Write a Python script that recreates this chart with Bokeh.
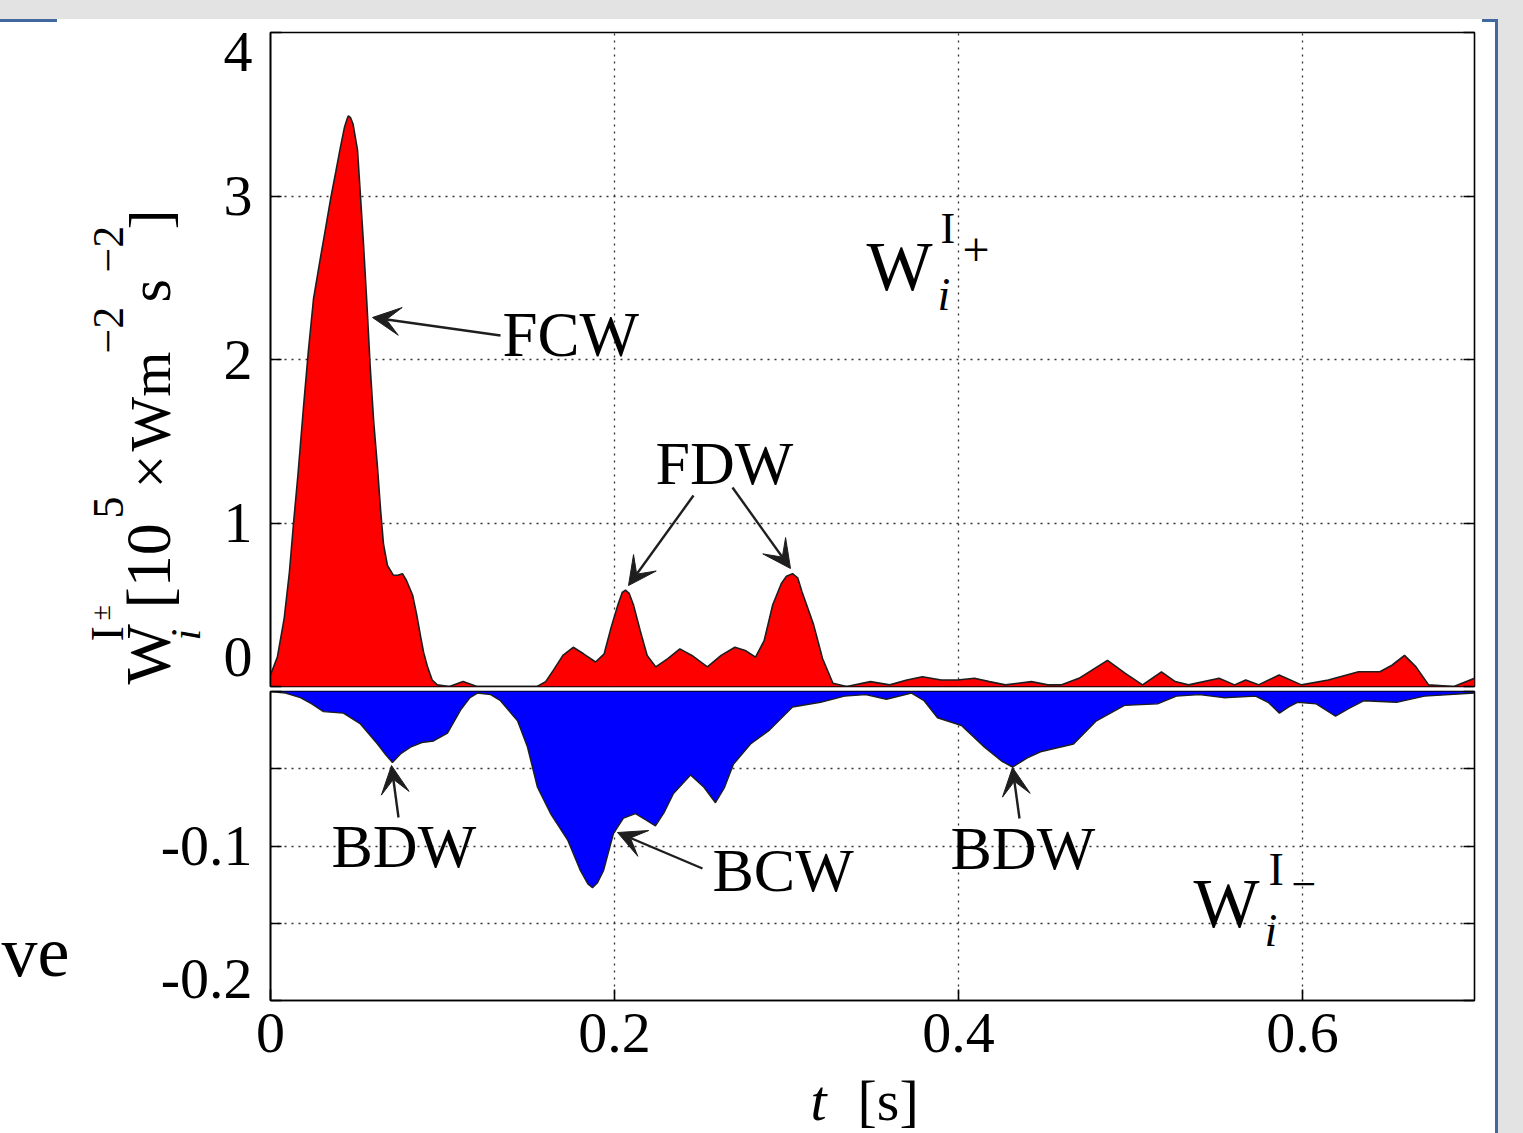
import math
from bokeh.plotting import figure
from bokeh.layouts import column, row
from bokeh.models import (Range1d, FixedTicker, LinearAxis, Grid, Label, Arrow, VeeHead)
from bokeh.embed import file_html
from bokeh.resources import INLINE

# ---------------- data ----------------
t_pos = [0.000, 0.004, 0.008, 0.011, 0.0134, 0.016, 0.0192, 0.022, 0.025, 0.029,
         0.032, 0.0349, 0.038, 0.0407, 0.043, 0.0445, 0.0453, 0.0465, 0.048, 0.0506,
         0.052, 0.054, 0.056, 0.058, 0.060, 0.0622, 0.064, 0.0657, 0.068, 0.0715,
         0.074, 0.0767, 0.079, 0.0826, 0.085, 0.0872, 0.089, 0.0913, 0.094, 0.097,
         0.104, 0.112, 0.120, 0.140, 0.155, 0.160, 0.1645, 0.170, 0.176, 0.182,
         0.189, 0.194, 0.198, 0.202, 0.2045, 0.2064, 0.2085, 0.211, 0.215, 0.219,
         0.224, 0.231, 0.238, 0.245, 0.254, 0.262, 0.270, 0.276, 0.282, 0.287,
         0.292, 0.297, 0.300, 0.3035, 0.3065, 0.309, 0.3157, 0.321, 0.327, 0.335,
         0.3488, 0.360, 0.370, 0.379, 0.390, 0.3994, 0.4093, 0.418, 0.4273, 0.4424,
         0.452, 0.460, 0.470, 0.4866, 0.497, 0.507, 0.518, 0.526, 0.5337, 0.5515,
         0.5605, 0.567, 0.5744, 0.5864, 0.5994, 0.615, 0.6326, 0.645, 0.652, 0.6593,
         0.666, 0.6733, 0.688, 0.700]
w_pos = [0.07, 0.18, 0.42, 0.70, 1.00, 1.30, 1.71, 2.05, 2.37, 2.62,
         2.80, 2.98, 3.15, 3.30, 3.42, 3.47, 3.49, 3.48, 3.44, 3.28,
         3.05, 2.72, 2.35, 1.95, 1.62, 1.34, 1.08, 0.87, 0.74, 0.68,
         0.68, 0.69, 0.65, 0.56, 0.44, 0.31, 0.21, 0.12, 0.04, 0.01,
         0.00, 0.03, 0.00, 0.00, 0.00, 0.03, 0.10, 0.19, 0.24, 0.20,
         0.15, 0.20, 0.36, 0.50, 0.575, 0.59, 0.57, 0.50, 0.34, 0.19,
         0.12, 0.17, 0.23, 0.19, 0.12, 0.19, 0.24, 0.22, 0.18, 0.28,
         0.50, 0.63, 0.675, 0.69, 0.665, 0.58, 0.38, 0.17, 0.02, 0.00,
         0.03, 0.01, 0.04, 0.06, 0.04, 0.04, 0.05, 0.03, 0.01, 0.03,
         0.01, 0.01, 0.05, 0.16, 0.08, 0.01, 0.09, 0.03, 0.01, 0.05,
         0.01, 0.04, 0.01, 0.07, 0.01, 0.04, 0.09, 0.09, 0.13, 0.19,
         0.12, 0.01, 0.00, 0.05]

t_neg = [0.000, 0.0087, 0.0174, 0.024, 0.0308, 0.0424, 0.0523, 0.0622, 0.0670, 0.0709,
         0.0760, 0.0814, 0.0880, 0.0948, 0.1029, 0.1105, 0.1160, 0.1203, 0.1280, 0.1337,
         0.1436, 0.1494, 0.1552, 0.1628, 0.1727, 0.1802, 0.1845, 0.1872, 0.1900, 0.1936,
         0.1994, 0.2052, 0.2122, 0.2180, 0.2238, 0.2290, 0.2343, 0.2442, 0.2520, 0.2587,
         0.2640, 0.2692, 0.2791, 0.2901, 0.3035, 0.3198, 0.3337, 0.3460, 0.3581, 0.3727,
         0.3800, 0.3878, 0.4017, 0.4151, 0.4250, 0.4314, 0.4400, 0.4477, 0.4669, 0.4802,
         0.4965, 0.5157, 0.5267, 0.5400, 0.5541, 0.5727, 0.5800, 0.5866, 0.5920, 0.5971,
         0.6080, 0.6192, 0.6270, 0.6355, 0.6547, 0.6709, 0.7000]
w_neg = [0.000, -0.001, -0.004, -0.008, -0.013, -0.014, -0.021, -0.034, -0.041, -0.046,
         -0.040, -0.036, -0.033, -0.032, -0.027, -0.012, -0.004, -0.001, -0.002, -0.006,
         -0.019, -0.036, -0.062, -0.079, -0.096, -0.116, -0.1245, -0.127, -0.124, -0.116,
         -0.092, -0.082, -0.079, -0.083, -0.087, -0.078, -0.066, -0.054, -0.062, -0.072,
         -0.062, -0.047, -0.034, -0.025, -0.010, -0.007, -0.003, -0.002, -0.005, -0.001,
         -0.006, -0.017, -0.022, -0.036, -0.045, -0.049, -0.043, -0.039, -0.034, -0.019,
         -0.009, -0.008, -0.003, -0.002, -0.004, -0.003, -0.007, -0.014, -0.010, -0.007,
         -0.008, -0.016, -0.011, -0.006, -0.007, -0.003, -0.001]

x_ticks = [0, 0.2, 0.4, 0.6]
x_tick_labels = ["0", "0.2", "0.4", "0.6"]
top_y_ticks = [0, 1, 2, 3, 4]
top_y_tick_labels = ["0", "1", "2", "3", "4"]
bot_y_ticks = [-0.2, -0.15, -0.1, -0.05, 0]
bot_y_tick_labels = ["-0.2", "", "-0.1", "", ""]

# ---------------- layout constants (page pixels) ----------------
FONT = "Liberation Serif"
PAGE_W, PAGE_H = 1523, 1133
FR_L, FR_R = 270, 1474                  # frame left / right
TOP_T, TOP_B = 32, 686                  # top panel frame
BOT_T, BOT_B = 691, 1000                # bottom panel frame
YL_W = 215                              # width of the y-label strip
TOP_H = 690
BOT_BORDER = 68
BOT_H = (BOT_T - TOP_H) + (BOT_B - BOT_T) + BOT_BORDER
XL_H = PAGE_H - TOP_H - BOT_H
LEFT2_W = 150
XSCALE = (FR_R - FR_L) / 0.7
TOP_YSCALE = (TOP_B - TOP_T) / 4.0
BOT_YSCALE = (BOT_B - BOT_T) / 0.2
GRID_COLOR = "#333333"
INK = "#1e1e1e"
BASE_SHIFT = 0.35      # distance from the text-box middle to the baseline (em)


def xd(px):
    return (px - FR_L) / XSCALE


def yt(py):
    return (TOP_B - py) / TOP_YSCALE


def yb(py):
    return -(py - BOT_T) / BOT_YSCALE


def ident(v):
    return v


def lab(p, px, py, text, fx, fy, size=62, align="left", style="normal", rotated=False):
    """px, py: start of the text on its baseline, in page pixels."""
    if rotated:
        px = px - BASE_SHIFT * size
    else:
        py = py - BASE_SHIFT * size
    p.add_layout(Label(x=fx(px), y=fy(py), text=text, text_font=FONT,
                       text_font_size=f"{size}px", text_font_style=style,
                       text_color="black", text_align=align,
                       text_baseline="middle",
                       angle=(math.pi / 2 if rotated else 0.0)))


def arrow(p, x1, y1, x2, y2, fy):
    p.add_layout(Arrow(x_start=xd(x1), y_start=fy(y1), x_end=xd(x2), y_end=fy(y2),
                       line_color=INK, line_width=2.4,
                       end=VeeHead(size=28, fill_color=INK, line_color=INK, line_width=1)))


def text_fig(w, h, frame_top, frame_bottom, canvas_top):
    """A bare figure whose frame spans page rows frame_top..frame_bottom; data = page px."""
    f = figure(width=w, height=h, x_range=Range1d(0, w),
               y_range=Range1d(frame_bottom, frame_top),
               output_backend="svg", toolbar_location=None, x_axis_location=None,
               y_axis_location=None, min_border_left=0, min_border_right=0,
               min_border_top=frame_top - canvas_top,
               min_border_bottom=canvas_top + h - frame_bottom)
    f.outline_line_color = None
    f.background_fill_color = None
    f.border_fill_color = None
    f.grid.visible = False
    return f


def style_panel(p):
    p.outline_line_color = "black"
    p.outline_line_width = 1.6
    p.background_fill_color = "white"
    p.border_fill_color = None
    for g in p.grid:
        g.visible = False


def add_grid(p, dim, ticks):
    p.add_layout(Grid(dimension=dim, ticker=FixedTicker(ticks=ticks),
                      grid_line_color=GRID_COLOR, grid_line_dash="2 5",
                      grid_line_width=1.3))


def tick_axis(ax, ticks):
    ax.ticker = FixedTicker(ticks=ticks)
    ax.major_label_overrides = {v: "" for v in ticks}
    ax.major_label_text_font_size = "0px"
    ax.major_label_standoff = 0
    ax.major_tick_in = 11
    ax.major_tick_out = 0
    ax.major_tick_line_color = "black"
    ax.major_tick_line_width = 1.6
    ax.minor_tick_line_color = None
    ax.axis_line_color = "black"
    ax.axis_line_width = 1.6


def label_axis(positions, labels, standoff=12, size="58px"):
    return LinearAxis(ticker=FixedTicker(ticks=positions),
                      major_label_overrides=dict(zip(positions, labels)),
                      major_label_text_font=FONT, major_label_text_font_size=size,
                      major_label_text_color="black", major_label_standoff=standoff,
                      major_tick_line_color=None, minor_tick_line_color=None,
                      axis_line_color=None)


def mirror_axis(p, ticks):
    ax = LinearAxis()
    tick_axis(ax, ticks)
    ax.axis_line_color = None
    p.add_layout(ax, "right")


# ---------------- top panel (W+) ----------------
top = figure(width=PAGE_W - YL_W, height=TOP_H, x_range=Range1d(0, 0.7),
             y_range=Range1d(0, 4), output_backend="svg", toolbar_location=None,
             x_axis_location=None, min_border_left=FR_L - YL_W,
             min_border_right=PAGE_W - FR_R, min_border_top=TOP_T,
             min_border_bottom=TOP_H - TOP_B)
style_panel(top)
add_grid(top, 0, x_ticks)
add_grid(top, 1, top_y_ticks)
tick_axis(top.yaxis[0], top_y_ticks)
# end labels sit inside the frame, as in the original (shift in pixels, upward)
top_shift_px = [30, 0, 0, 0, -19]
top_label_pos = [v + s / TOP_YSCALE for v, s in zip(top_y_ticks, top_shift_px)]
top.add_layout(label_axis(top_label_pos, top_y_tick_labels), "left")
mirror_axis(top, top_y_ticks)

top.varea(x=t_pos, y1=0, y2=w_pos, fill_color="#ff0000")
top.line(t_pos, w_pos, line_color=INK, line_width=1.6)

lab(top, 502, 357, "FCW", xd, yt, size=63)
arrow(top, 500, 335, 372, 317, yt)
lab(top, 655, 484, "FDW", xd, yt, size=62)
arrow(top, 693, 495, 628, 585, yt)
arrow(top, 732, 487, 790, 568, yt)
lab(top, 866, 290, "W", xd, yt, size=70)
lab(top, 940, 243, "I", xd, yt, size=44)
lab(top, 962, 266, "+", xd, yt, size=48)
lab(top, 937, 310, "i", xd, yt, size=46, style="italic")

# ---------------- y-axis title strip (frame aligned with the top panel) ----------------
ylab = text_fig(YL_W, TOP_H, TOP_T, TOP_B, 0)
for (bx, sy, txt, sz, st) in [
        (170, 684, "W", 64, "normal"),
        (123, 641, "I", 46, "normal"),
        (110, 620, "±", 28, "normal"),
        (200, 640, "i", 42, "italic"),
        (170, 608, "[10", 64, "normal"),
        (123, 518, "5", 44, "normal"),
        (170, 488, "×", 60, "normal"),
        (170, 451, "Wm", 58, "normal"),
        (123, 353, "−2", 44, "normal"),
        (170, 302, "s", 60, "normal"),
        (123, 272, "−2", 44, "normal"),
        (170, 229, "]", 60, "normal")]:
    lab(ylab, bx, sy, txt, ident, ident, size=sz, style=st, rotated=True)

# ---------------- bottom panel (W-) ----------------
bot = figure(width=PAGE_W - LEFT2_W, height=BOT_H, x_range=top.x_range,
             y_range=Range1d(-0.2, 0), output_backend="svg", toolbar_location=None,
             x_axis_location="below", min_border_left=FR_L - LEFT2_W,
             min_border_right=PAGE_W - FR_R, min_border_top=BOT_T - TOP_H,
             min_border_bottom=BOT_BORDER)
style_panel(bot)
add_grid(bot, 0, x_ticks)
add_grid(bot, 1, bot_y_ticks)
tick_axis(bot.yaxis[0], bot_y_ticks)
bot_shift_px = [22, 0, 0, 0, 0]
bot_label_pos = [v + s / BOT_YSCALE for v, s in zip(bot_y_ticks, bot_shift_px)]
bot.add_layout(label_axis(bot_label_pos, bot_y_tick_labels), "left")
mirror_axis(bot, bot_y_ticks)
xa = bot.xaxis[0]
tick_axis(xa, x_ticks)
xa.major_label_overrides = dict(zip(x_ticks, x_tick_labels))
xa.major_label_text_font = FONT
xa.major_label_text_font_size = "58px"
xa.major_label_text_color = "black"
xa.major_label_standoff = 13

bot.varea(x=t_neg, y1=0, y2=w_neg, fill_color="#0000ff")
bot.line(t_neg, w_neg, line_color=INK, line_width=1.4)

lab(bot, 331, 867, "BDW", xd, yb, size=62)
arrow(bot, 398, 817, 391, 765, yb)
lab(bot, 712, 891, "BCW", xd, yb, size=62)
arrow(bot, 702, 868, 617, 832, yb)
lab(bot, 950, 869, "BDW", xd, yb, size=62)
arrow(bot, 1019, 818, 1012, 767, yb)
lab(bot, 1193, 927, "W", xd, yb, size=70)
lab(bot, 1268, 885, "I", xd, yb, size=46)
lab(bot, 1291, 899, "−", xd, yb, size=44)
lab(bot, 1264, 946, "i", xd, yb, size=46, style="italic")

# left strip of the bottom row (slide text fragment), frame aligned with the bottom panel
left2 = text_fig(LEFT2_W, BOT_H, BOT_T, BOT_B, TOP_H)
lab(left2, 1, 977, "ve", ident, ident, size=72)

# x-axis title strip
xlab = text_fig(PAGE_W, XL_H, TOP_H + BOT_H, PAGE_H, TOP_H + BOT_H)
lab(xlab, 810, 1120, "t", ident, ident, size=58, style="italic")
lab(xlab, 857, 1120, "[s]", ident, ident, size=58)

bg = ("linear-gradient(#41689f,#41689f) 0px 19px / 57px 3px no-repeat, "
      "linear-gradient(#41689f,#41689f) 1482px 19px / 16px 3px no-repeat, "
      "linear-gradient(#41689f,#41689f) 1495px 19px / 3px 1114px no-repeat, "
      "linear-gradient(#e3e3e3,#e3e3e3) 0px 0px / 100% 19px no-repeat, "
      "linear-gradient(#e3e3e3,#e3e3e3) 1498px 0px / 25px 100% no-repeat, white")

layout = column(row(ylab, top, spacing=0), row(left2, bot, spacing=0), xlab,
                spacing=0, styles={"background": bg})
open("out.html", "w").write(file_html(layout, INLINE))
